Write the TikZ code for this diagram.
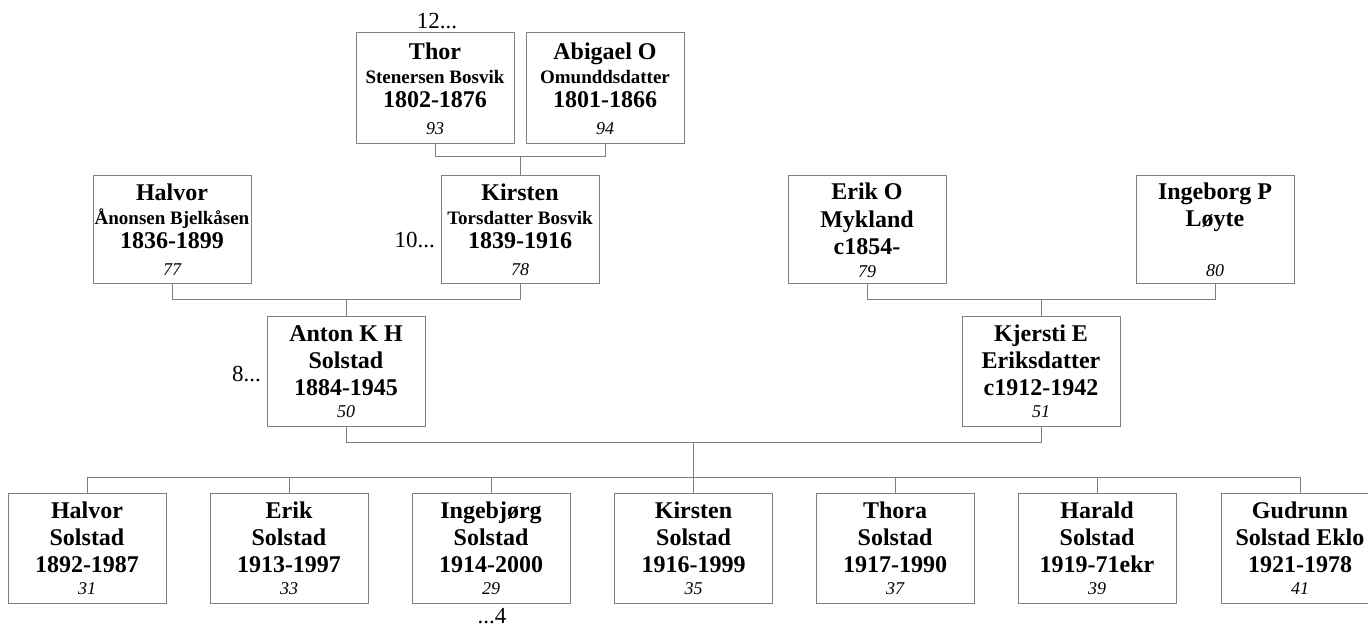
\documentclass[tikz,border=0pt]{standalone}
\usepackage{fontspec}
\setmainfont{Liberation Serif}
\usetikzlibrary{calc}
\definecolor{linegray}{RGB}{128,128,128}
\newcommand\midtxt[1]{{\fontsize{19}{22}\selectfont #1}}
\newcommand\numtxt[1]{{\normalfont\itshape\fontsize{18}{20}\selectfont #1}}
\tikzset{
  person/.style={draw=linegray, line width=1pt, fill=white, minimum width=158pt,
    minimum height=109pt, inner sep=0pt, align=center,
    font=\fontsize{24}{27}\selectfont\bfseries},
  toprow/.style={person, minimum height=111pt},
  secrow/.style={person, minimum height=108pt},
  kid/.style={person, minimum height=110pt},
  conn/.style={draw=linegray, line width=1pt},
  lbl/.style={inner sep=0pt, font=\fontsize{23}{27}\selectfont}
}
\begin{document}
\begin{tikzpicture}[x=1pt,y=-1pt]
\useasboundingbox[fill=white] (0,0) rectangle (1368,628);
% generation 4
\node[toprow] (thor) at (435,88.5) {Thor\\[-3pt]\midtxt{Stenersen Bosvik}\\[-3pt]1802-1876\\\numtxt{93}};
\node[toprow] (abigael) at (605,88.5) {Abigael O\\[-3pt]\midtxt{Omunddsdatter}\\[-3pt]1801-1866\\\numtxt{94}};
% generation 3
\node[secrow] (halvor) at (172,230) {Halvor\\[-3pt]\midtxt{Ånonsen Bjelkåsen}\\[-3pt]1836-1899\\\numtxt{77}};
\node[secrow] (kirsten) at (520,230) {Kirsten\\[-3pt]\midtxt{Torsdatter Bosvik}\\[-3pt]1839-1916\\\numtxt{78}};
\node[secrow] (eriko) at (867,230) {Erik O\\[1pt]Mykland\\c1854-\\[-4pt]\numtxt{79}};
\node[secrow] (ingeborg) at (1215,230) {Ingeborg P\\Løyte\\\mbox{}\\[-4pt]\numtxt{80}};
% generation 2
\node[person] (anton) at (346,371.5) {Anton K H\\Solstad\\1884-1945\\[-5pt]\numtxt{50}};
\node[person] (kjersti) at (1041,371.5) {Kjersti E\\Eriksdatter\\c1912-1942\\[-5pt]\numtxt{51}};
% children
\node[kid] (c1) at (87,548) {Halvor\\Solstad\\1892-1987\\[-5pt]\numtxt{31}};
\node[kid] (c2) at (289,548) {Erik\\Solstad\\1913-1997\\[-5pt]\numtxt{33}};
\node[kid] (c3) at (491,548) {Ingebjørg\\Solstad\\1914-2000\\[-5pt]\numtxt{29}};
\node[kid] (c4) at (693.5,548) {Kirsten\\Solstad\\1916-1999\\[-5pt]\numtxt{35}};
\node[kid] (c5) at (895,548) {Thora\\Solstad\\1917-1990\\[-5pt]\numtxt{37}};
\node[kid] (c6) at (1097,548) {Harald\\Solstad\\1919-71ekr\\[-5pt]\numtxt{39}};
\node[kid] (c7) at (1300,548) {Gudrunn\\Solstad Eklo\\1921-1978\\[-5pt]\numtxt{41}};
% bar levels
\coordinate (bar1) at (0,157);
\coordinate (bar2) at (0,300);
\coordinate (bar3) at (0,442);
\coordinate (bus) at (0,477);
% connectors
\draw[conn] (thor.south) |- (bar1 -| abigael.south) -- (abigael.south);
\draw[conn] (kirsten.north) -- (kirsten.north |- bar1);
\draw[conn] (halvor.south) |- (bar2 -| kirsten.south) -- (kirsten.south);
\draw[conn] (anton.north) -- (anton.north |- bar2);
\draw[conn] (eriko.south) |- (bar2 -| ingeborg.south) -- (ingeborg.south);
\draw[conn] (kjersti.north) -- (kjersti.north |- bar2);
\draw[conn] (anton.south) |- (bar3 -| kjersti.south) -- (kjersti.south);
\draw[conn] (c4.north) -- (c4.north |- bar3);
\draw[conn] (c1.north) |- (bus -| c7.north) -- (c7.north);
\foreach \c in {c2,c3,c5,c6} \draw[conn] (\c.north) -- (\c.north |- bus);
% continuation labels
\node[lbl, anchor=base] (l12) at (437,29) {12...};
\node[lbl, anchor=base east] (l10) at (435,248) {10...};
\node[lbl, anchor=base east] (l8) at (261,381) {8...};
\node[lbl, anchor=base] (l4) at (492,623) {...4};
\end{tikzpicture}
\end{document}
